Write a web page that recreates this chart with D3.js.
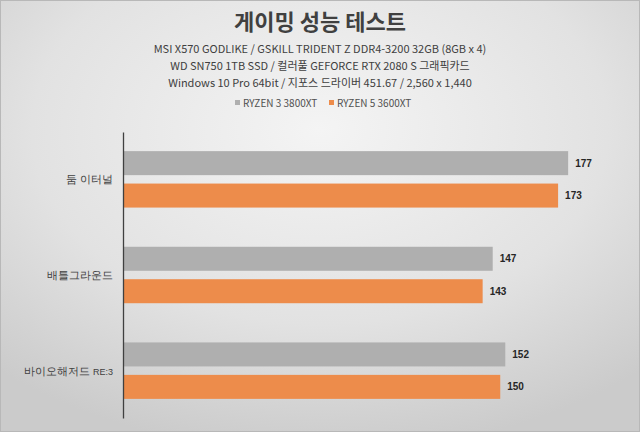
<!DOCTYPE html>
<html>
<head>
<meta charset="utf-8">
<script src="https://cdn.jsdelivr.net/npm/d3@7"></script>
<style>
  body { margin: 0; background: #fff; }
  svg { display: block; font-family: "Noto Sans CJK KR", "Noto Sans", sans-serif; }
</style>
</head>
<body>
<svg id="chart" width="640" height="432"></svg>
<script>
// data
var categories = ["둠 이터널", "배틀그라운드", "바이오해저드 RE:3"];
var seriesNames = ["RYZEN 3 3800XT", "RYZEN 5 3600XT"];
var ryzen3 = [177, 147, 152];
var ryzen5 = [173, 143, 150];
var subtitles = [
  "MSI X570  GODLIKE / GSKILL TRIDENT Z DDR4-3200  32GB (8GB x 4)",
  "WD SN750  1TB SSD / 컬러풀  GEFORCE RTX  2080 S 그래픽카드",
  "Windows  10 Pro 64bit / 지포스 드라이버 451.67  / 2,560 x 1,440"
];
var colors = ["#afafaf", "#ed8c4b"];

var width = 640, height = 432;
var svg = d3.select("#chart");

// background
var defs = svg.append("defs");
var grad = defs.append("radialGradient")
  .attr("id", "bg")
  .attr("cx", "50%").attr("cy", "30%").attr("r", "75%");
grad.append("stop").attr("offset", "0%").attr("stop-color", "#f4f4f4");
grad.append("stop").attr("offset", "60%").attr("stop-color", "#e2e2e2");
grad.append("stop").attr("offset", "100%").attr("stop-color", "#cbcbcb");

svg.append("rect")
  .attr("width", width).attr("height", height)
  .attr("fill", "url(#bg)")
  .attr("stroke", "#b8b8b8")
  .attr("stroke-width", 2);

// titles
svg.append("text")
  .text("게이밍 성능 테스트")
  .attr("x", 320).attr("y", 30)
  .attr("text-anchor", "middle")
  .style("font-size", "22px")
  .style("font-weight", "bold")
  .style("fill", "#404040");

svg.selectAll("text.sub")
  .data(subtitles)
  .enter()
  .append("text")
  .attr("class", "sub")
  .attr("x", 320)
  .attr("y", function(d, i) { return 53 + i * 17; })
  .attr("text-anchor", "middle")
  .style("font-size", "11px")
  .style("fill", "#404040")
  .text(function(d) { return d; });

// legend
var legendX = [235, 329];
var legend = svg.selectAll("g.legenditem")
  .data(seriesNames)
  .enter()
  .append("g")
  .attr("class", "legenditem")
  .attr("transform", function(d, i) { return "translate(" + legendX[i] + ",103)"; });

legend.append("rect")
  .attr("x", 0).attr("y", -3)
  .attr("width", 5).attr("height", 5)
  .style("fill", function(d, i) { return colors[i]; });

legend.append("text")
  .attr("x", 8).attr("y", 3.5)
  .style("font-size", "10px")
  .style("fill", "#505050")
  .text(function(d) { return d; });

// scales
var x = d3.scaleLinear().domain([0, 200]).range([123, 626]);
var y0 = d3.scaleBand().domain(categories).range([132, 418])
  .paddingInner(0.41).paddingOuter(0.2);
var y1 = d3.scaleBand().domain(seriesNames).range([0, y0.bandwidth()])
  .paddingInner(0.26);

var rows = categories.map(function(c, i) {
  return { cat: c, values: [ryzen3[i], ryzen5[i]] };
});

var groups = svg.selectAll("g.group")
  .data(rows)
  .enter()
  .append("g")
  .attr("class", "group")
  .attr("transform", function(d) { return "translate(0," + y0(d.cat) + ")"; });

groups.selectAll("rect")
  .data(function(d) { return d.values.map(function(v, i) { return { s: seriesNames[i], v: v, i: i }; }); })
  .enter()
  .append("rect")
  .attr("x", x(0))
  .attr("y", function(d) { return y1(d.s); })
  .attr("width", function(d) { return x(d.v) - x(0); })
  .attr("height", y1.bandwidth())
  .style("fill", function(d) { return colors[d.i]; });

groups.selectAll("text.val")
  .data(function(d) { return d.values.map(function(v, i) { return { s: seriesNames[i], v: v }; }); })
  .enter()
  .append("text")
  .attr("class", "val")
  .attr("x", function(d) { return x(d.v) + 7; })
  .attr("y", function(d) { return y1(d.s) + y1.bandwidth() / 2; })
  .attr("dy", "0.35em")
  .style("font-family", "'Liberation Sans', 'DejaVu Sans', sans-serif")
  .style("font-size", "10px")
  .style("font-weight", "bold")
  .style("fill", "#262626")
  .text(function(d) { return d.v; });

// category axis
var yAxis = svg.append("g")
  .attr("transform", "translate(" + x(0) + ",0)")
  .call(d3.axisLeft(y0).tickSize(0).tickPadding(10).tickFormat(""));
yAxis.select(".domain").attr("stroke", "#404040").attr("stroke-width", 1.3);

yAxis.selectAll(".tick")
  .append("text")
  .attr("x", -10)
  .attr("dy", "0.35em")
  .attr("text-anchor", "end")
  .style("font-size", "11px")
  .style("fill", "#404040")
  .each(function(d) {
    var parts = d.split(" RE:");
    var t = d3.select(this);
    if (parts.length > 1) {
      t.append("tspan").text(parts[0] + " ");
      t.append("tspan").style("font-size", "9px").text("RE:" + parts[1]);
    } else {
      t.text(d);
    }
  });
</script>
</body>
</html>
